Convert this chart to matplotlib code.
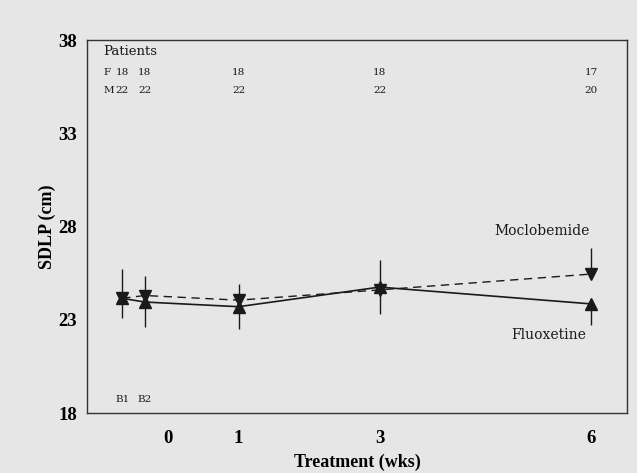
import matplotlib
matplotlib.use("Agg")
import matplotlib.pyplot as plt

# Data
x_pos = [-0.65, -0.33, 1, 3, 6]
point_labels = ["B1", "B2", "1", "3", "6"]
moclo_mean = [24.15, 24.3, 24.05, 24.6, 25.45]
moclo_sd = [1.55, 1.05, 0.85, 1.6, 1.4]
fluox_mean = [24.15, 23.95, 23.7, 24.75, 23.85]
fluox_sd = [1.05, 1.35, 1.2, 1.45, 1.15]
patients_f = ["18", "18", "18", "18", "17"]
patients_m = ["22", "22", "22", "22", "20"]
xticks = [0, 1, 3, 6]
yticks = [18, 23, 28, 33, 38]

bg = "#e6e6e6"
ink = "#1a1a1a"
fig = plt.figure(figsize=(6.37, 4.73), dpi=100, facecolor=bg)
ax = fig.add_axes([87/637, 60/473, 540/637, 373/473], facecolor=bg)

# Moclobemide: dashed, down triangles, error bars up
ax.plot(x_pos, moclo_mean, ls=(0, (6, 4)), color=ink, lw=1.0, zorder=2)
ax.errorbar(x_pos, moclo_mean, yerr=[[0]*5, moclo_sd], fmt="none", ecolor=ink, elinewidth=1.0, capsize=0, zorder=2)
ax.plot(x_pos, moclo_mean, ls="none", marker="v", ms=8, color=ink, zorder=3)

# Fluoxetine: solid, up triangles, error bars down
ax.plot(x_pos, fluox_mean, ls="-", color=ink, lw=1.2, zorder=2)
ax.errorbar(x_pos, fluox_mean, yerr=[fluox_sd, [0]*5], fmt="none", ecolor=ink, elinewidth=1.0, capsize=0, zorder=2)
ax.plot(x_pos, fluox_mean, ls="none", marker="^", ms=8, color=ink, zorder=3)

ax.set_xlim(-1.149, 6.51)
ax.set_ylim(18, 37.9)
ax.set_xticks(xticks)
ax.set_xticklabels([str(t) for t in xticks])
ax.set_yticks(yticks)
ax.set_yticklabels([str(t) for t in yticks])
ax.tick_params(length=0, labelsize=13.5)
ax.tick_params(axis="x", pad=12)
ax.tick_params(axis="y", pad=7)
for lab in ax.get_xticklabels() + ax.get_yticklabels():
    lab.set_fontfamily("Liberation Serif")
    lab.set_fontweight("bold")
for s in ax.spines.values():
    s.set_color("#333333")
    s.set_linewidth(1.0)

ax.set_xlabel("Treatment (wks)", fontfamily="Liberation Serif", fontweight="bold", fontsize=13, labelpad=5)
ax.set_ylabel("SDLP (cm)", fontfamily="Liberation Serif", fontweight="bold", fontsize=13, labelpad=2)

slab = "DejaVu Serif"
ax.text(-0.92, 37.36, "Patients", fontfamily=slab, fontsize=9.5, color=ink, va="center", ha="left")
ax.text(-0.92, 36.24, "F", fontfamily=slab, fontsize=7.5, color=ink, va="center", ha="left")
ax.text(-0.92, 35.28, "M", fontfamily=slab, fontsize=7.5, color=ink, va="center", ha="left")
for xp, f, m in zip(x_pos, patients_f, patients_m):
    ax.text(xp, 36.24, f, fontfamily=slab, fontsize=7.5, color=ink, va="center", ha="center")
    ax.text(xp, 35.28, m, fontfamily=slab, fontsize=7.5, color=ink, va="center", ha="center")
for xp, lab in zip(x_pos[:2], point_labels[:2]):
    ax.text(xp, 18.7, lab, fontfamily=slab, fontsize=7.5, color=ink, va="center", ha="center")

ax.text(5.3, 27.76, "Moclobemide", fontfamily=slab, fontsize=10, color=ink, va="center", ha="center")
ax.text(5.4, 22.16, "Fluoxetine", fontfamily=slab, fontsize=10, color=ink, va="center", ha="center")

fig.savefig("out.png", dpi=100, facecolor=bg)
